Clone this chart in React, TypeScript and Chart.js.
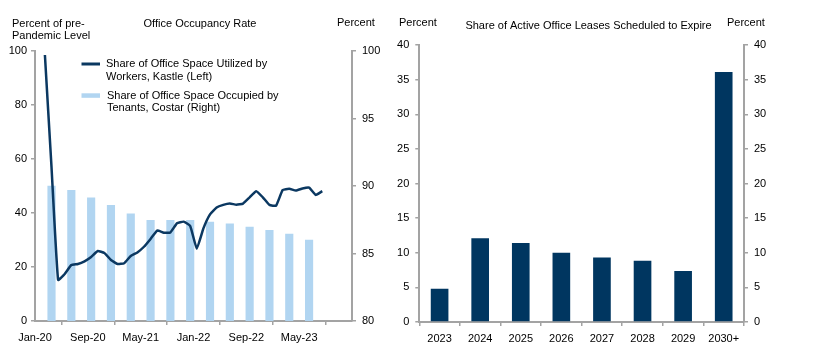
import React, { useEffect, useRef } from "react";
import { Chart, registerables } from "chart.js";

Chart.register(...registerables);

// ---------- Data ----------
// Kastle: monthly, starting Feb-2020 (month index 1 from Jan-2020)
const kastleStartMonth = 1;
const kastleValues = [
  98.5, 57, 15.2, 17.4, 20.7, 21.1, 22.1, 23.7, 25.9, 25.2, 22.6,
  21.1, 21.4, 24.1, 25.4, 27.5, 30.4, 33.5, 32.7, 32.8, 36.2, 36.8, 35.2,
  26.8, 34.3, 39.5, 42.0, 43.0, 43.5, 43.1, 43.5, 45.8, 48.1, 45.8, 43.0,
  42.7, 48.5, 49.0, 48.3, 49.1, 49.4, 46.7, 48.1,
];
// Costar: quarterly, Q1-2020 .. Q2-2023
const costarQuarters = [
  "Q1-20", "Q2-20", "Q3-20", "Q4-20", "Q1-21", "Q2-21", "Q3-21",
  "Q4-21", "Q1-22", "Q2-22", "Q3-22", "Q4-22", "Q1-23", "Q2-23",
];
const costarValues = [
  90.0, 89.68, 89.13, 88.57, 87.93, 87.46, 87.46, 87.46, 87.33, 87.19,
  86.96, 86.72, 86.44, 86.0,
];
const occupancyTickLabels = ["Jan-20", "Sep-20", "May-21", "Jan-22", "Sep-22", "May-23", ""];

const leaseYears = ["2023", "2024", "2025", "2026", "2027", "2028", "2029", "2030+"];
const leaseValues = [4.8, 12.1, 11.4, 10.0, 9.3, 8.85, 7.35, 36.1];

// ---------- Styles ----------
const FONT = '"Liberation Sans", Arial, sans-serif';
const NAVY = "#0b3861";
const LIGHT = "#b1d5f1";
const AXIS = "#a3a3a3";

type TextItem = { t: string; x: number; y: number; align?: CanvasTextAlign };

function textPlugin(items: TextItem[], extra?: (ctx: CanvasRenderingContext2D) => void) {
  return {
    id: "customText",
    afterDraw(chart: any) {
      const ctx: CanvasRenderingContext2D = chart.ctx;
      ctx.save();
      ctx.font = `11px ${FONT}`;
      ctx.fillStyle = "#000";
      ctx.textBaseline = "middle";
      for (const it of items) {
        ctx.textAlign = it.align || "left";
        ctx.fillText(it.t, it.x, it.y);
      }
      if (extra) extra(ctx);
      ctx.restore();
    },
  };
}

const tickFont = { family: FONT, size: 11 };

function LeftChart() {
  const ref = useRef<HTMLCanvasElement>(null);
  useEffect(() => {
    const lineData = kastleValues.map((v, i) => ({ x: kastleStartMonth + i + 0.5, y: v }));
    const barData = costarValues.map((v, i) => ({ x: i * 3 + 2.5, y: v, q: costarQuarters[i] }));
    const chart = new Chart(ref.current!, {
      type: "bar",
      data: {
        datasets: [
          {
            type: "line",
            label: "Share of Office Space Utilized by Workers, Kastle (Left)",
            data: lineData,
            borderColor: NAVY,
            borderWidth: 2.5,
            pointRadius: 0,
            tension: 0.12,
            yAxisID: "y",
            order: 0,
          } as any,
          {
            type: "bar",
            label: "Share of Office Space Occupied by Tenants, Costar (Right)",
            data: barData,
            backgroundColor: LIGHT,
            barThickness: 7.5,
            yAxisID: "y2",
            order: 1,
          } as any,
        ],
      },
      options: {
        responsive: false,
        animation: false,
        layout: { padding: { top: 51, left: 0, right: 0, bottom: 0 } },
        plugins: { legend: { display: false }, tooltip: { enabled: false } },
        scales: {
          x: {
            type: "linear",
            min: 0,
            max: 48,
            offset: false,
            ticks: {
              stepSize: 8,
              autoSkip: false,
              maxRotation: 0,
              color: "#000",
              font: tickFont,
              padding: 6,
              callback: (v: any) => occupancyTickLabels[Math.round(Number(v) / 8)] ?? "",
            },
            grid: { drawOnChartArea: false, color: AXIS, tickLength: 4, lineWidth: 1.5 },
            border: { color: AXIS, width: 2 },
            afterFit: (s: any) => { s.height = 35; },
          },
          y: {
            position: "left",
            min: 0,
            max: 100,
            ticks: { stepSize: 20, color: "#000", font: tickFont, padding: 4 },
            grid: { drawOnChartArea: false, color: AXIS, tickLength: 4, lineWidth: 1.5 },
            border: { color: AXIS, width: 2 },
            afterFit: (s: any) => { s.width = 35; },
          },
          y2: {
            position: "right",
            min: 80,
            max: 100,
            ticks: { stepSize: 5, color: "#000", font: tickFont, padding: 6 },
            grid: { drawOnChartArea: false, color: AXIS, tickLength: 4, lineWidth: 1.5 },
            border: { color: AXIS, width: 2 },
            afterFit: (s: any) => { s.width = 43; },
          },
        },
      },
      plugins: [
        textPlugin(
          [
            { t: "Percent of pre-", x: 12, y: 24 },
            { t: "Pandemic Level", x: 12, y: 36 },
            { t: "Office Occupancy Rate", x: 200, y: 24, align: "center" },
            { t: "Percent", x: 337, y: 23 },
            { t: "Share of Office Space Utilized by", x: 106, y: 64 },
            { t: "Workers, Kastle (Left)", x: 106, y: 76.5 },
            { t: "Share of Office Space Occupied by", x: 107, y: 95.5 },
            { t: "Tenants, Costar (Right)", x: 107, y: 108 },
          ],
          (ctx) => {
            ctx.strokeStyle = NAVY;
            ctx.lineWidth = 3;
            ctx.beginPath();
            ctx.moveTo(81.5, 64);
            ctx.lineTo(100, 64);
            ctx.stroke();
            ctx.fillStyle = LIGHT;
            ctx.fillRect(81.5, 93.3, 18.5, 4.5);
          }
        ),
      ],
    } as any);
    return () => chart.destroy();
  }, []);
  return <canvas ref={ref} width={395} height={356} style={{ display: "block" }} />;
}

function RightChart() {
  const ref = useRef<HTMLCanvasElement>(null);
  useEffect(() => {
    const chart = new Chart(ref.current!, {
      type: "bar",
      data: {
        labels: leaseYears,
        datasets: [
          {
            label: "Share of Active Office Leases Scheduled to Expire",
            data: leaseValues,
            backgroundColor: "#003660",
            categoryPercentage: 1,
            barPercentage: 0.435,
            yAxisID: "y",
          },
        ],
      },
      options: {
        responsive: false,
        animation: false,
        layout: { padding: { top: 45, left: 0, right: 0, bottom: 0 } },
        plugins: { legend: { display: false }, tooltip: { enabled: false } },
        scales: {
          x: {
            ticks: { color: "#000", font: tickFont, padding: 6, maxRotation: 0, autoSkip: false },
            grid: { drawOnChartArea: false, color: AXIS, tickLength: 4, lineWidth: 1.5, offset: true },
            border: { color: AXIS, width: 2 },
            afterFit: (s: any) => { s.height = 34; },
          },
          y: {
            position: "left",
            min: 0,
            max: 40,
            ticks: { stepSize: 5, color: "#000", font: tickFont, padding: 6 },
            grid: { drawOnChartArea: false, color: AXIS, tickLength: 4, lineWidth: 1.5 },
            border: { color: AXIS, width: 2 },
            afterFit: (s: any) => { s.width = 24.3; },
          },
          y2: {
            position: "right",
            min: 0,
            max: 40,
            ticks: { stepSize: 5, color: "#000", font: tickFont, padding: 6 },
            grid: { drawOnChartArea: false, color: AXIS, tickLength: 4, lineWidth: 1.5 },
            border: { color: AXIS, width: 2 },
            afterFit: (s: any) => { s.width = 72; },
          },
        },
      },
      plugins: [
        textPlugin([
          { t: "Percent", x: 4, y: 23 },
          { t: "Share of Active Office Leases Scheduled to Expire", x: 193.5, y: 26, align: "center" },
          { t: "Percent", x: 332, y: 23 },
        ]),
      ],
    } as any);
    return () => chart.destroy();
  }, []);
  return <canvas ref={ref} width={421} height={356} style={{ display: "block" }} />;
}

export default function App() {
  return (
    <div
      style={{
        position: "fixed",
        left: 0,
        top: 0,
        width: 816,
        height: 356,
        background: "#fff",
        display: "flex",
        flexDirection: "row",
      }}
    >
      <LeftChart />
      <RightChart />
    </div>
  );
}
